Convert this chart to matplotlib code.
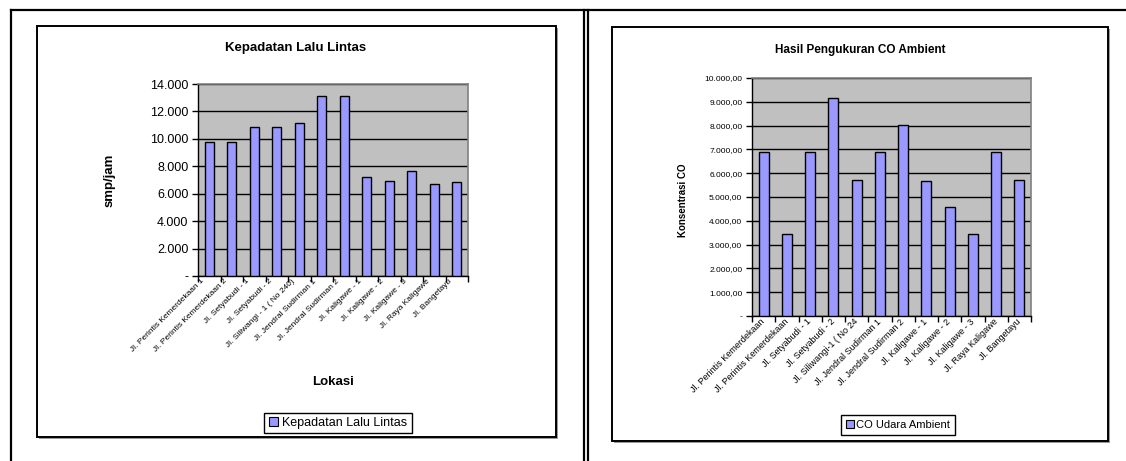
import matplotlib
matplotlib.use("Agg")
import matplotlib.pyplot as plt
from matplotlib import font_manager
from matplotlib.patches import Rectangle
from matplotlib.lines import Line2D
from matplotlib.ticker import FixedLocator, FuncFormatter
from matplotlib.transforms import ScaledTranslation

# ---- data -------------------------------------------------------------
lokasi_lalu_lintas = [
    "Jl. Perintis Kemerdekaan 1",
    "Jl. Perintis Kemerdekaan 2",
    "Jl. Setyabudi - 1",
    "Jl. Setyabudi - 2",
    "Jl. Siliwangi - 1 ( No 240)",
    "Jl. Jendral Sudirman 1",
    "Jl. Jendral Sudirman 2",
    "Jl. Kaligawe - 1",
    "Jl. Kaligawe - 2",
    "Jl. Kaligawe - 3",
    "Jl. Raya Kaligawe",
    "Jl. Bangetayu",
]
kepadatan = [9750, 9750, 10850, 10850, 11130, 13120, 13120,
             7210, 6960, 7630, 6720, 6870]
kepadatan_ticks = [0, 2000, 4000, 6000, 8000, 10000, 12000, 14000]

lokasi_co = [
    "Jl. Perintis Kemerdekaan",
    "Jl. Perintis Kemerdekaan",
    "Jl. Setyabudi - 1",
    "Jl. Setyabudi - 2",
    "Jl. Siliwangi-1 ( No 24",
    "Jl. Jendral Sudirman 1",
    "Jl. Jendral Sudirman 2",
    "Jl. Kaligawe - 1",
    "Jl. Kaligawe - 2",
    "Jl. Kaligawe - 3",
    "Jl. Raya Kaligawe",
    "Jl. Bangetayu",
]
co_ambient = [6870, 3435, 6870, 9160, 5725, 6870, 8015,
              5670, 4580, 3435, 6870, 5725]
co_ticks = [0, 1000, 2000, 3000, 4000, 5000, 6000, 7000, 8000, 9000, 10000]

# ---- styling ----------------------------------------------------------
W, H = 1126, 461
BAR = "#9999FF"
PLOT_BG = "#C0C0C0"

installed = {f.name for f in font_manager.fontManager.ttflist}
SANS = "Liberation Sans" if "Liberation Sans" in installed else "DejaVu Sans"
NARROW = "Liberation Sans Narrow" if "Liberation Sans Narrow" in installed else SANS
plt.rcParams["font.family"] = SANS

fig = plt.figure(figsize=(W / 100, H / 100), dpi=100)
fig.patch.set_facecolor("white")


def rect(x0, y0, x1, y1):
    return [x0 / W, 1 - y1 / H, (x1 - x0) / W, (y1 - y0) / H]


# page frame: a background axes in pixel units
bg = fig.add_axes([0, 0, 1, 1])
bg.set_xlim(0, W)
bg.set_ylim(H, 0)
bg.axis("off")
for xs, ys in [((11, 11), (10, H)), ((11, W), (10, 10)),
               ((584, 584), (10, H)), ((588, 588), (10, H))]:
    bg.add_line(Line2D(xs, ys, color="black", lw=1.6))

# chart boxes with a soft grey drop shadow
for (x0, y0, x1, y1) in [(37, 26, 556, 437), (612, 27, 1108, 441)]:
    bg.add_patch(Rectangle((x0 + 2, y0 + 2), x1 - x0, y1 - y0,
                           facecolor="#9a9a9a", edgecolor="none"))
    bg.add_patch(Rectangle((x0, y0), x1 - x0, y1 - y0,
                           facecolor="white", edgecolor="black", lw=1.4))


def bar_panel(box, names, values, ticks, fmt, tick_fs, tick_font,
              label_fs, label_font, label_shift):
    ax = fig.add_axes(rect(*box))
    ax.set_facecolor(PLOT_BG)
    x = list(range(len(values)))
    ax.bar(x, values, width=0.42, color=BAR, edgecolor="black",
           linewidth=1.0, zorder=3)
    ax.set_xlim(-0.5, len(values) - 0.5)
    ax.set_ylim(ticks[0], ticks[-1])
    ax.yaxis.set_major_locator(FixedLocator(ticks))
    ax.yaxis.set_major_formatter(FuncFormatter(fmt))
    ax.yaxis.grid(True, color="black", lw=1.0, zorder=1)
    ax.set_axisbelow(True)
    for side in ("top", "right"):
        ax.spines[side].set_color("#808080")
        ax.spines[side].set_linewidth(1.2)
    for side in ("left", "bottom"):
        ax.spines[side].set_color("black")
        ax.spines[side].set_linewidth(1.0)
    # tick marks between categories, labels under the bars
    ax.xaxis.set_major_locator(FixedLocator([i - 0.5 for i in range(len(values) + 1)]))
    ax.xaxis.set_minor_locator(FixedLocator(x))
    ax.tick_params(axis="x", which="major", direction="out", length=4,
                   width=1, labelbottom=False)
    ax.tick_params(axis="x", which="minor", length=0, pad=3)
    ax.set_xticks(x, names, minor=True)
    for lab in ax.get_xticklabels(minor=True):
        lab.set_rotation(45)
        lab.set_ha("right")
        lab.set_va("center")
        lab.set_rotation_mode("anchor")
        lab.set_fontsize(label_fs)
        lab.set_family(label_font)
        lab.set_transform(lab.get_transform() +
                          ScaledTranslation(label_shift / 100, 0, fig.dpi_scale_trans))
    ax.tick_params(axis="y", direction="out", length=4, width=1,
                   labelsize=tick_fs, pad=3)
    for lab in ax.get_yticklabels():
        lab.set_family(tick_font)
    return ax


def fmt_lalu_lintas(v, _):
    if v == 0:
        return "-"
    return f"{v:,.0f}".replace(",", ".")


def fmt_co(v, _):
    if v == 0:
        return "-"
    s = f"{v:,.2f}"
    return s.replace(",", "#").replace(".", ",").replace("#", ".")


# ---- left chart: traffic density -------------------------------------
ax1 = bar_panel((198, 84, 468, 276), lokasi_lalu_lintas, kepadatan,
                kepadatan_ticks, fmt_lalu_lintas, 9, SANS, 6.0, SANS, -6)
fig.text(296 / W, 1 - 48 / H, "Kepadatan Lalu Lintas", ha="center",
         va="center", fontsize=9.5, fontweight="bold")
fig.text(110 / W, 1 - 180 / H, "smp/jam", ha="center", va="center",
         rotation=90, fontsize=9.5, fontweight="bold")
fig.text(333 / W, 1 - 382 / H, "Lokasi", ha="center", va="center",
         fontsize=9.5, fontweight="bold")
h1 = Rectangle((0, 0), 1, 1, facecolor=BAR, edgecolor="black", lw=0.8)
fig.legend([h1], ["Kepadatan Lalu Lintas"], loc="center",
           bbox_to_anchor=(338 / W, 1 - 423 / H), fontsize=9,
           frameon=True, fancybox=False, edgecolor="black", framealpha=1,
           handlelength=0.75, handleheight=0.75, handletextpad=0.35,
           borderpad=0.35, borderaxespad=0)

# ---- right chart: ambient CO ------------------------------------------
ax2 = bar_panel((752, 78, 1031, 316), lokasi_co, co_ambient,
                co_ticks, fmt_co, 6, NARROW, 6.5, NARROW, 0)
fig.text(860 / W, 1 - 50 / H, "Hasil Pengukuran CO Ambient", ha="center",
         va="center", fontsize=8.5, fontweight="bold")
fig.text(683 / W, 1 - 200 / H, "Konsentrasi CO", ha="center", va="center",
         rotation=90, fontsize=7, fontweight="bold")
h2 = Rectangle((0, 0), 1, 1, facecolor=BAR, edgecolor="black", lw=0.8)
leg2 = fig.legend([h2], ["CO Udara Ambient"], loc="center",
                  bbox_to_anchor=(898 / W, 1 - 425 / H), fontsize=8,
                  frameon=True, fancybox=False, edgecolor="black",
                  framealpha=1, handlelength=0.75, handleheight=0.75,
                  handletextpad=0.15, borderpad=0.45, borderaxespad=0)
for t in leg2.get_texts():
    t.set_family(NARROW)

fig.savefig("out.png", dpi=100, facecolor="white")
